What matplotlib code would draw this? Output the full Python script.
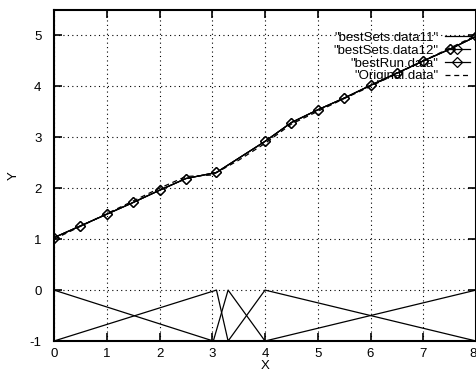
import numpy as np
import matplotlib
matplotlib.use("Agg")
from matplotlib import pyplot as plt
from matplotlib.transforms import ScaledTranslation

plt.rcParams['font.family'] = ['Liberation Sans', 'DejaVu Sans']
plt.rcParams['axes.unicode_minus'] = False

# fitted / best run values
best_x = [0, 0.5, 1, 1.5, 2, 2.5, 3.08, 4, 4.5, 5, 5.5, 6, 6.5, 7, 7.5, 8]
best_y = [1.03, 1.26, 1.49, 1.72, 1.96, 2.19, 2.31, 2.92, 3.29, 3.54, 3.77, 4.02, 4.26, 4.50, 4.73, 4.98]

# original data
orig_x = [0, 0.5, 1, 1.5, 2, 2.5, 3, 3.5, 4, 4.5, 5, 5.5, 6, 6.5, 7, 7.5, 8]
orig_y = [1.0, 1.25, 1.5, 1.75, 2.0, 2.23, 2.26, 2.55, 2.88, 3.26, 3.51, 3.76, 4.0, 4.25, 4.5, 4.75, 5.0]

# membership functions drawn at the bottom
mf1_x = [0, 3.08, 3.3, 4, 8]
mf1_y = [-1, 0, -1, 0, -1]
mf2_x = [0, 3.02, 3.3, 4, 8]
mf2_y = [0, -1, 0, -1, 0]

labels = ['"bestSets.data11"', '"bestSets.data12"', '"bestRun.data"', '"Original.data"']

fig = plt.figure(figsize=(4.77, 3.74), dpi=100)
ax = fig.add_axes([0.1132, 0.0882, 0.8848, 0.8851])

ax.plot(best_x, best_y, color='black', lw=0.9, label=labels[0])
ax.plot(mf1_x, mf1_y, color='black', lw=0.9)
ax.plot(mf2_x, mf2_y, color='black', lw=0.9)
ax.plot(best_x, best_y, color='black', lw=0.9, marker='D', ms=5.5,
        mfc='none', mec='black', mew=0.9, label=labels[1])
ax.plot(best_x, best_y, color='black', lw=0.9, marker='D', ms=5.5,
        mfc='none', mec='black', mew=0.9, label=labels[2])
ax.plot(orig_x, orig_y, color='black', lw=0.9, ls=(0, (4, 3)), label=labels[3])

ax.set_xlim(0, 8)
ax.set_ylim(-1, 5.5)
ax.set_xticks(range(0, 9))
ax.set_yticks(range(-1, 6))
ax.grid(True, color='black', lw=0.8, ls=(0, (1, 3)))
ax.tick_params(direction='in', length=6, width=1.2, top=True, right=True, labelsize=9.5)
ax.tick_params(axis='x', pad=5)
ax.tick_params(axis='y', pad=9)
for s in ax.spines.values():
    s.set_linewidth(1.5)

# keep the last x label inside the picture, like gnuplot does
last = ax.get_xticklabels()[-1]
last.set_transform(last.get_transform() + ScaledTranslation(-3/100, 0, fig.dpi_scale_trans))

ax.set_xlabel("X", fontsize=9.5, labelpad=0)
ax.set_ylabel("Y", fontsize=9.5)
ax.yaxis.set_label_coords(-0.08, 0.5)

leg = ax.legend(loc='upper right', bbox_to_anchor=(0.985, 0.935), frameon=False,
                markerfirst=False, fontsize=9.5, handlelength=1.9, handletextpad=0.5,
                labelspacing=0.05, borderpad=0, borderaxespad=0, numpoints=1)

fig.savefig("out.png", dpi=100)
